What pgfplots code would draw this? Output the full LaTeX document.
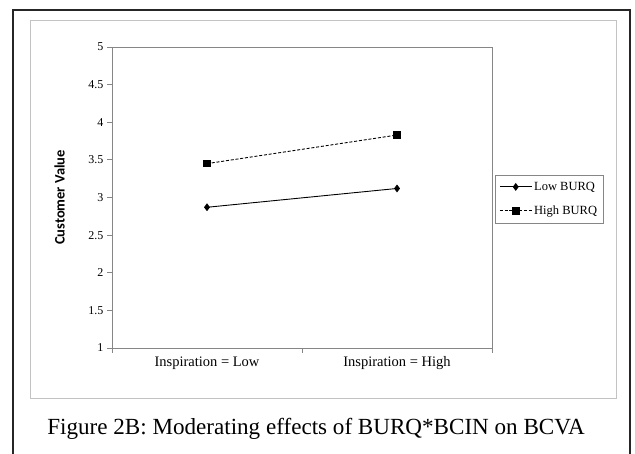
\documentclass[border=0pt]{standalone}
\usepackage{fontspec}
\setmainfont{Liberation Serif}
\newfontfamily\calibri{Carlito}
\usepackage{pgfplots}
\pgfplotsset{compat=1.18}

\definecolor{axgray}{RGB}{134,134,134}
\definecolor{framegray}{RGB}{195,195,195}

\begin{document}
\begin{tikzpicture}[x=1bp,y=1bp]
\useasboundingbox (0,0) rectangle (635,454);
% outer page frame and chart area frame
\draw[line width=1.2bp, black!85] (13,0) -- (13,444) -- (630,444) -- (630,0);
\draw[line width=0.7bp, framegray] (30,56) rectangle (616,434);

\begin{axis}[
  at={(112bp,106bp)}, anchor=south west,
  scale only axis, width=380bp, height=301bp,
  xmin=0, xmax=2, ymin=1, ymax=5,
  ytick={1,1.5,...,5},
  xtick={0.5,1.5},
  xticklabels={Inspiration = Low, Inspiration = High},
  minor xtick={0,1,2},
  major x tick style={draw=none},
  tick align=outside, tick pos=left,
  major tick length=5bp, minor tick length=5bp,
  axis line style={axgray, line width=0.8bp},
  every tick/.style={axgray, line width=0.8bp},
  /pgf/number format/assume math mode=true,
  yticklabel style={font=\fontsize{12bp}{13bp}\selectfont,
    /pgf/number format/.cd, fixed, precision=1},
  xticklabel style={font=\fontsize{14.5bp}{16bp}\selectfont},
  ylabel={\calibri\bfseries Customer Value},
  ylabel style={at={(axis description cs:-0.138,0.5)}, anchor=center,
    font=\fontsize{14.5bp}{16bp}\selectfont},
  legend style={at={(axis description cs:1,0.495)}, anchor=west, xshift=3bp,
    draw=axgray, line width=0.6bp, row sep=10bp,
    inner xsep=4bp, inner ysep=5bp,
    font=\fontsize{12.5bp}{14bp}\selectfont,
    cells={anchor=west}},
  legend image code/.code={%
    \draw[mark repeat=2, mark phase=2, #1]
      plot coordinates {(0bp,0bp) (16bp,0bp) (32bp,0bp)};},
]
\addplot[black, line width=0.9bp, mark=diamond*, mark size=3.2bp,
  mark options={solid}]
  coordinates {(0.5,2.87) (1.5,3.12)};
\addplot[black, line width=0.9bp, dash pattern=on 3bp off 1.8bp,
  mark=square*, mark size=3.2bp, mark options={solid}]
  coordinates {(0.5,3.45) (1.5,3.83)};
\legend{Low BURQ, High BURQ}
\end{axis}

\node at (316,25) {\fontsize{23.1bp}{27bp}\selectfont Figure 2B: Moderating effects of BURQ*BCIN on BCVA};
\end{tikzpicture}
\end{document}
